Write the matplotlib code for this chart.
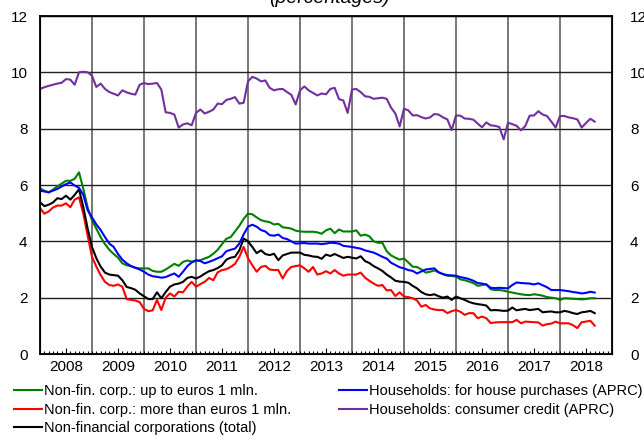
import numpy as np
import matplotlib
matplotlib.use("Agg")
import matplotlib.pyplot as plt

# monthly series, Jan 2008 .. Sep 2018 (percentages)
green = [
    5.88, 5.80, 5.74, 5.84, 5.95, 6.05, 6.15, 6.15, 6.22, 6.45, 5.86, 5.20,  # 2008
    4.75, 4.45, 4.15, 3.90, 3.70, 3.55, 3.42, 3.22, 3.15, 3.12, 3.06, 3.04,  # 2009
    3.04, 3.04, 2.95, 2.92, 2.92, 3.00, 3.10, 3.20, 3.13, 3.27, 3.32, 3.28,  # 2010
    3.30, 3.33, 3.39, 3.45, 3.56, 3.70, 3.90, 4.09, 4.15, 4.35, 4.55, 4.80,  # 2011
    4.98, 4.96, 4.85, 4.75, 4.71, 4.68, 4.60, 4.62, 4.50, 4.48, 4.45, 4.38,  # 2012
    4.35, 4.34, 4.34, 4.34, 4.32, 4.27, 4.39, 4.45, 4.29, 4.42, 4.35, 4.35,  # 2013
    4.35, 4.39, 4.20, 4.24, 4.18, 4.00, 3.95, 3.95, 3.65, 3.50, 3.42, 3.35,  # 2014
    3.39, 3.25, 3.10, 3.09, 3.00, 2.89, 2.92, 2.97, 2.90, 2.83, 2.78, 2.77,  # 2015
    2.75, 2.65, 2.62, 2.57, 2.52, 2.42, 2.45, 2.47, 2.30, 2.27, 2.27, 2.25,  # 2016
    2.21, 2.18, 2.15, 2.12, 2.10, 2.09, 2.12, 2.10, 2.07, 2.02, 2.00, 1.98,  # 2017
    1.92, 1.98, 1.97, 1.96, 1.95, 1.94, 1.95, 1.98, 1.98,                    # 2018
]
red = [
    5.18, 4.98, 5.06, 5.20, 5.27, 5.27, 5.35, 5.21, 5.48, 5.56, 4.98, 4.20,
    3.45, 3.10, 2.80, 2.56, 2.45, 2.42, 2.47, 2.39, 1.95, 1.92, 1.90, 1.84,
    1.60, 1.52, 1.55, 1.92, 1.56, 2.00, 2.15, 2.04, 2.21, 2.19, 2.40, 2.56,
    2.39, 2.48, 2.56, 2.70, 2.62, 2.90, 2.98, 3.01, 3.09, 3.20, 3.45, 3.80,
    3.40, 3.15, 2.92, 3.09, 3.13, 3.00, 2.98, 2.98, 2.68, 2.95, 3.09, 3.12,
    3.15, 3.04, 2.92, 3.09, 2.82, 2.86, 2.94, 2.86, 2.98, 2.86, 2.78, 2.82,
    2.82, 2.82, 2.89, 2.71, 2.60, 2.50, 2.42, 2.45, 2.26, 2.27, 2.06, 2.19,
    2.04, 2.02, 1.98, 1.90, 1.68, 1.74, 1.62, 1.58, 1.56, 1.56, 1.45, 1.52,
    1.56, 1.50, 1.39, 1.45, 1.45, 1.27, 1.33, 1.27, 1.10, 1.12, 1.13, 1.13,
    1.13, 1.13, 1.21, 1.09, 1.15, 1.14, 1.13, 1.12, 1.01, 1.06, 1.08, 1.15,
    1.09, 1.09, 1.09, 1.02, 0.92, 1.13, 1.15, 1.18, 1.01,
]
black = [
    5.39, 5.25, 5.30, 5.38, 5.53, 5.50, 5.62, 5.48, 5.65, 5.85, 5.21, 4.45,
    3.80, 3.40, 3.10, 2.89, 2.82, 2.80, 2.78, 2.62, 2.38, 2.34, 2.28, 2.15,
    2.05, 1.95, 1.95, 2.19, 1.98, 2.20, 2.39, 2.47, 2.50, 2.56, 2.70, 2.74,
    2.68, 2.75, 2.85, 2.94, 2.98, 3.05, 3.15, 3.35, 3.42, 3.45, 3.68, 4.10,
    4.00, 3.80, 3.58, 3.68, 3.55, 3.51, 3.56, 3.33, 3.50, 3.55, 3.60, 3.60,
    3.60, 3.52, 3.50, 3.46, 3.45, 3.38, 3.53, 3.48, 3.55, 3.48, 3.41, 3.45,
    3.42, 3.39, 3.47, 3.30, 3.23, 3.12, 3.04, 2.95, 2.82, 2.72, 2.60, 2.57,
    2.56, 2.53, 2.42, 2.33, 2.20, 2.12, 2.09, 2.12, 2.05, 2.00, 2.04, 1.92,
    2.04, 1.98, 1.92, 1.85, 1.80, 1.77, 1.75, 1.72, 1.55, 1.56, 1.55, 1.53,
    1.54, 1.65, 1.55, 1.58, 1.60, 1.56, 1.58, 1.60, 1.48, 1.50, 1.51, 1.48,
    1.48, 1.53, 1.50, 1.45, 1.42, 1.48, 1.50, 1.53, 1.45,
]
blue = [
    5.80, 5.77, 5.74, 5.80, 5.86, 5.95, 6.03, 6.09, 5.98, 5.90, 5.65, 5.10,
    4.85, 4.60, 4.40, 4.15, 3.92, 3.80, 3.55, 3.35, 3.22, 3.12, 3.06, 3.00,
    2.92, 2.82, 2.76, 2.74, 2.71, 2.73, 2.80, 2.86, 2.74, 2.92, 3.12, 3.25,
    3.33, 3.30, 3.22, 3.27, 3.33, 3.40, 3.47, 3.65, 3.70, 3.74, 3.92, 4.25,
    4.52, 4.59, 4.52, 4.40, 4.35, 4.22, 4.20, 4.24, 4.12, 4.08, 4.00, 3.92,
    3.93, 3.94, 3.92, 3.92, 3.92, 3.90, 3.92, 3.95, 3.94, 3.92, 3.84, 3.82,
    3.80, 3.77, 3.74, 3.68, 3.64, 3.60, 3.53, 3.45, 3.39, 3.24, 3.16, 3.08,
    3.04, 2.98, 2.95, 2.86, 2.93, 3.00, 3.02, 3.04, 2.90, 2.84, 2.80, 2.79,
    2.78, 2.73, 2.70, 2.66, 2.60, 2.52, 2.50, 2.47, 2.35, 2.34, 2.35, 2.34,
    2.33, 2.45, 2.54, 2.52, 2.51, 2.50, 2.47, 2.51, 2.44, 2.37, 2.27, 2.27,
    2.27, 2.25, 2.23, 2.20, 2.18, 2.15, 2.17, 2.21, 2.18,
]
purple = [
    9.41, 9.47, 9.52, 9.56, 9.60, 9.63, 9.76, 9.74, 9.56, 10.00, 10.02, 10.00,
    9.88, 9.48, 9.60, 9.41, 9.30, 9.24, 9.18, 9.36, 9.29, 9.24, 9.21, 9.56,
    9.62, 9.58, 9.60, 9.62, 9.39, 8.58, 8.56, 8.50, 8.04, 8.15, 8.19, 8.12,
    8.56, 8.68, 8.54, 8.60, 8.68, 8.89, 8.87, 9.02, 9.06, 9.12, 8.89, 8.92,
    9.68, 9.84, 9.78, 9.68, 9.71, 9.45, 9.36, 9.40, 9.41, 9.30, 9.20, 8.86,
    9.36, 9.50, 9.36, 9.27, 9.18, 9.25, 9.22, 9.41, 9.45, 9.05, 9.00, 8.56,
    9.39, 9.41, 9.30, 9.15, 9.13, 9.06, 9.08, 9.10, 9.06, 8.75, 8.54, 8.08,
    8.71, 8.65, 8.47, 8.48, 8.41, 8.36, 8.40, 8.52, 8.50, 8.40, 8.33, 7.95,
    8.47, 8.46, 8.36, 8.35, 8.32, 8.18, 8.05, 8.22, 8.12, 8.10, 8.06, 7.62,
    8.21, 8.16, 8.10, 7.94, 8.10, 8.46, 8.47, 8.62, 8.50, 8.45, 8.25, 8.04,
    8.45, 8.45, 8.40, 8.37, 8.33, 8.04, 8.20, 8.35, 8.25,
]
years = list(range(2008, 2019))
labels = [
    "Non-fin. corp.: up to euros 1 mln.",
    "Non-fin. corp.: more than euros 1 mln.",
    "Non-financial corporations (total)",
    "Households: for house purchases (APRC)",
    "Households: consumer credit (APRC)",
]

plt.rcParams["font.family"] = ["Liberation Sans", "DejaVu Sans"]

fig = plt.figure(figsize=(6.44, 4.36), dpi=100)
ax = fig.add_axes([40 / 644, 1 - 354 / 436, 572 / 644, 338 / 436])

months = np.arange(len(green))
series = [green, red, black, blue, purple]
colors = ["#008000", "#ff0000", "#000000", "#0000ff", "#7030a0"]
for vals, col, lab in zip(series, colors, labels):
    ax.plot(months, vals, color=col, lw=1.5, label=lab, zorder=3)

ax.set_xlim(0, 132)
ax.set_ylim(0, 12)

# year gridlines and horizontal grid
ax.vlines(np.arange(12, 132, 12), 0, 12, colors="#606060", lw=1.2, zorder=1)
ax.set_yticks(np.arange(0, 13, 2))
ax.yaxis.grid(True, color="#202020", lw=1.0, zorder=1)
ax.tick_params(axis="y", length=0, pad=9, labelsize=11)

# x: year labels mid-year, monthly minor ticks
ax.set_xticks(np.arange(6, 132, 12))
ax.set_xticklabels([str(y) for y in years])
ax.set_xticks(np.arange(0, 133, 1), minor=True)
ax.tick_params(axis="x", which="major", direction="in", length=4, pad=4,
               labelsize=11, width=0.8)
ax.tick_params(axis="x", which="minor", direction="in", length=2.5, width=0.8)

for s in ax.spines.values():
    s.set_linewidth(1.3)

# right-hand axis
ax2 = ax.twinx()
ax2.set_ylim(0, 12)
ax2.set_yticks(np.arange(0, 13, 2))
ax2.tick_params(axis="y", length=0, pad=13, labelsize=11)

fig.text(0.512, 0.993, "(percentages)", ha="center", va="baseline",
         fontsize=14, style="italic")

ax.legend(loc="upper left", bbox_to_anchor=(14 / 644, 1 - 384 / 436),
          bbox_transform=fig.transFigure, ncol=2, frameon=False,
          fontsize=10.5, handlelength=1.9, handletextpad=0.15,
          columnspacing=3.3, labelspacing=0.32, borderaxespad=0,
          borderpad=0)

fig.savefig("out.png", dpi=100)
